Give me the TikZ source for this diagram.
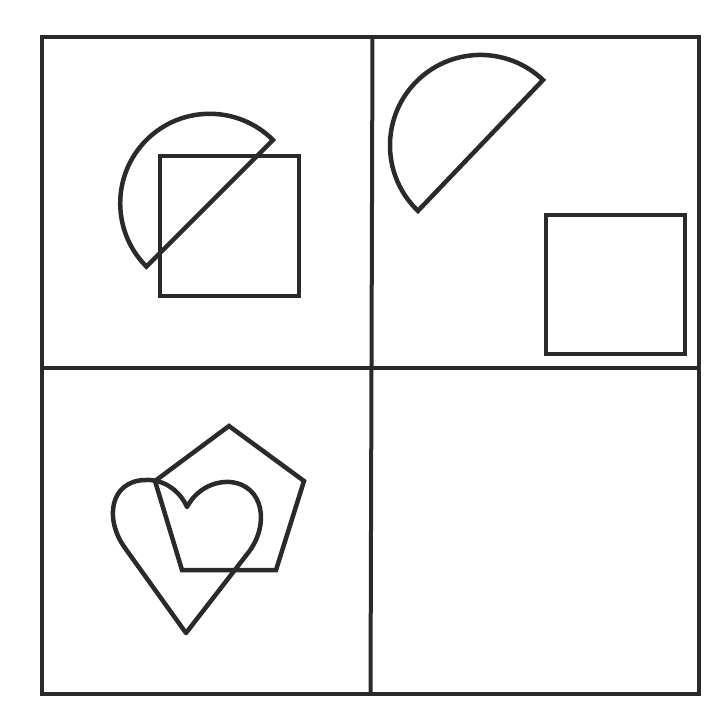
\documentclass[tikz,border=0pt]{standalone}
\begin{document}
\begin{tikzpicture}[x=1pt,y=-1pt,
  frameline/.style={draw=ink,line width=4pt,line join=miter},
  shapeline/.style={draw=ink,line width=4.5pt,line join=miter}]
\definecolor{ink}{HTML}{2A2A2A}
\useasboundingbox (0,0) rectangle (720,720);
% frame and dividers
\draw[frameline] (42,37) rectangle (699,694);
\draw[frameline] (372.5,37) -- (370.5,694);
\draw[frameline] (42,367.5) -- (699,367.5);
% top-left: semicircle and square
\draw[shapeline] (160,156) rectangle (299,296);
\draw[shapeline] (273,140) arc[start angle=-45,end angle=-225,radius=89.5] -- cycle;
% top-right: semicircle and square
\draw[shapeline] (543,80) arc[start angle=-46.3,end angle=-226.3,radius=90.5] -- cycle;
\draw[shapeline] (546,215) rectangle (685,354);
% bottom-left: pentagon and heart
\draw[shapeline] (229,426) -- (304,481) -- (276,570) -- (182,570) -- (155,481) -- cycle;
\draw[shapeline,line join=round] (186,633) -- (125,548)
  .. controls (104,519) and (110,481) .. (145,480)
  .. controls (166,479) and (181,493) .. (187,507)
  .. controls (196,490) and (213,481) .. (230,482)
  .. controls (264,485) and (270,525) .. (248,553) -- cycle;
\end{tikzpicture}
\end{document}
